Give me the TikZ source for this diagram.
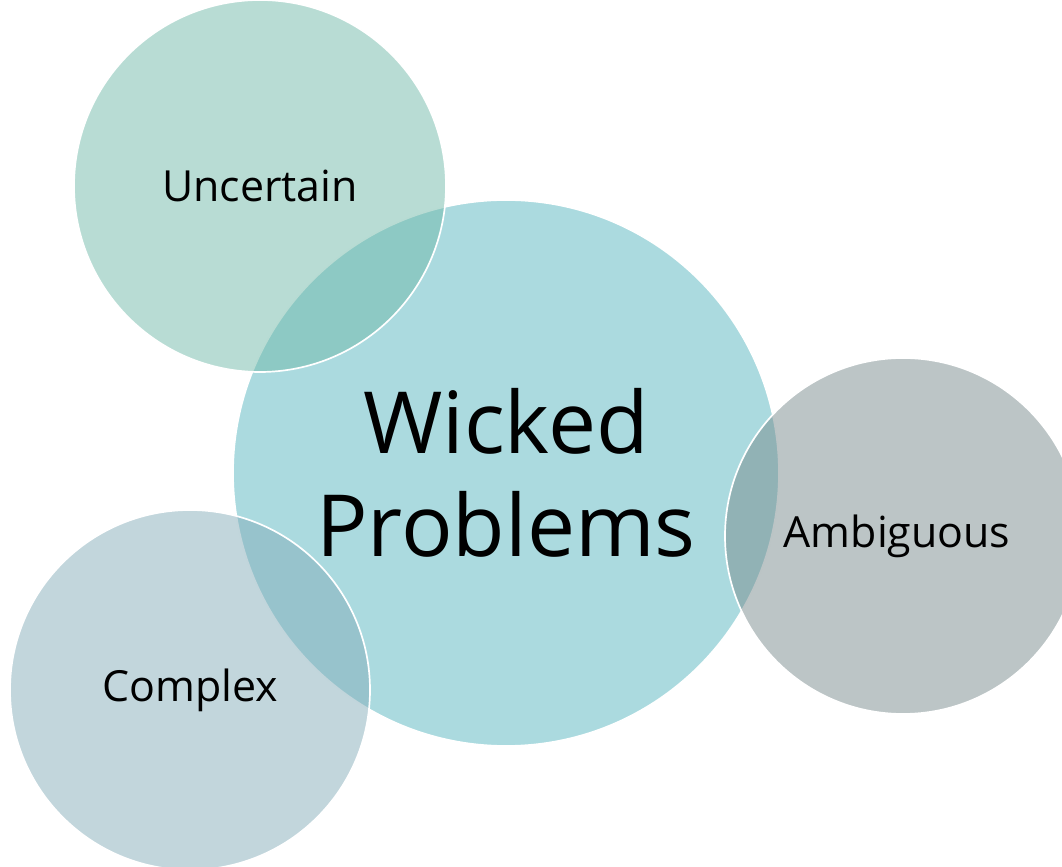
\documentclass[tikz,border=0pt]{standalone}
\usepackage{fontspec}
\setmainfont{Open Sans}
\usetikzlibrary{positioning}

\definecolor{coreteal}{RGB}{87,181,191}
\definecolor{uncgreen}{RGB}{113,185,169}
\definecolor{ambgrey}{RGB}{121,139,141}
\definecolor{cmplxblue}{RGB}{133,173,185}

\begin{document}
\begin{tikzpicture}[
    bubble/.style={circle, draw=white, line width=1.2pt, fill opacity=0.5, text opacity=1, inner sep=0pt, align=center},
    core/.style={bubble, fill=coreteal, minimum size=13.65cm, font=\fontsize{61}{73}\selectfont},
    side/.style={bubble, font=\fontsize{30.5}{36}\selectfont}
]
\useasboundingbox (0,0) rectangle (26.55,21.675);
\node[core] (wicked) at (12.65,9.85) {Wicked\\Problems};
\node[side, fill=uncgreen, minimum size=9.3cm] (uncertain) at (6.5,17.025) {Uncertain};
\node[side, fill=ambgrey, minimum size=8.9cm] (ambiguous) at (22.575,8.275) {\hspace*{-0.3cm}Ambiguous};
\node[side, fill=cmplxblue, minimum size=9cm] (complex) at (4.75,4.425) {Complex};
\end{tikzpicture}
\end{document}
